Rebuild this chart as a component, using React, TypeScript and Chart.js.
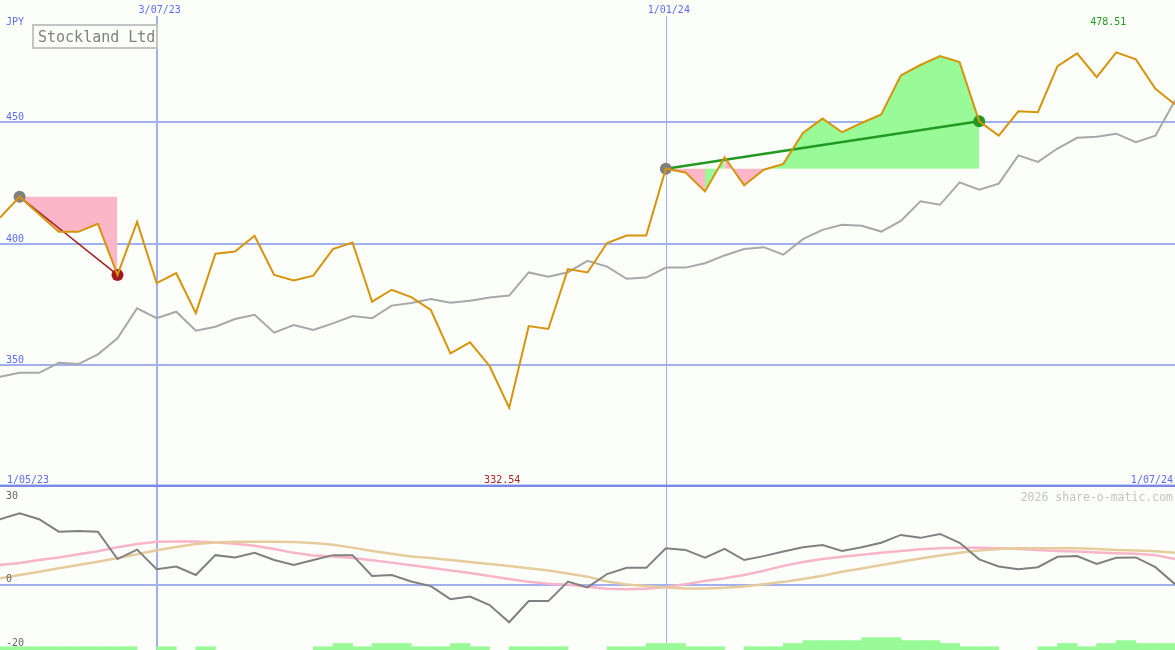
import { useEffect, useRef } from "react"
import { Chart, registerables } from "chart.js"

Chart.register(...registerables)

// weekly closes (JPY), index = week, 8 May 2023 .. 1 Jul 2024
const price = [
  410.6, 419.2, 412.0, 404.8, 404.8, 408.1, 387.1, 408.9, 383.7, 387.8,
  371.4, 395.8, 396.7, 403.2, 387.1, 384.8, 386.8, 397.7, 400.4, 376.1,
  381.0, 378.0, 372.7, 354.9, 359.4, 349.7, 332.54, 366.1, 364.9, 389.5,
  388.1, 400.2, 403.3, 403.3, 430.7, 429.2, 421.4, 435.4, 423.9, 430.3,
  432.7, 445.4, 451.3, 445.7, 449.5, 453.0, 469.0, 473.3, 477.0, 474.5,
  450.2, 444.3, 454.3, 453.9, 472.8, 478.1, 468.3, 478.51, 475.6, 463.5, 457.1,
]

// relative market line (grey)
const benchmark = [
  345.3, 346.9, 346.9, 351.0, 350.5, 354.5, 361.1, 373.4, 369.3, 372.0,
  364.2, 365.8, 369.0, 370.7, 363.4, 366.5, 364.5, 367.2, 370.2, 369.3,
  374.5, 375.6, 377.2, 375.7, 376.5, 377.8, 378.6, 388.1, 386.4, 388.2,
  392.9, 390.5, 385.5, 386.0, 390.1, 390.1, 391.9, 395.1, 397.7, 398.5,
  395.4, 401.8, 405.6, 407.7, 407.3, 404.9, 409.3, 417.3, 415.9, 425.1,
  422.1, 424.6, 436.2, 433.5, 439.0, 443.4, 443.8, 445.1, 441.6, 444.3, 458.7,
]

// lower panel
const momentum = [
  20.1, 21.9, 20.1, 16.3, 16.5, 16.3, 7.9, 10.8, 4.8, 5.6,
  3.0, 9.1, 8.4, 9.8, 7.6, 6.1, 7.6, 9.1, 9.1, 2.7,
  3.0, 1.0, -0.4, -4.4, -3.6, -6.2, -11.5, -5.0, -5.0, 1.0,
  -0.8, 3.3, 5.2, 5.2, 11.2, 10.7, 8.3, 11.0, 7.6, 8.8,
  10.2, 11.5, 12.2, 10.4, 11.5, 12.9, 15.3, 14.4, 15.6, 12.9,
  7.8, 5.6, 4.8, 5.4, 8.6, 8.8, 6.4, 8.3, 8.4, 5.4, 0.2,
]

const avgPink = [
  6.1, 6.7, 7.6, 8.4, 9.4, 10.3, 11.5, 12.5, 13.2, 13.3,
  13.3, 13.0, 12.6, 12.0, 11.0, 9.8, 9.0, 8.7, 8.2, 7.5,
  6.8, 6.0, 5.2, 4.4, 3.6, 2.7, 1.8, 0.9, 0.3, 0.0,
  -0.6, -1.2, -1.4, -1.2, -0.7, 0.2, 1.2, 2.0, 3.0, 4.3,
  5.8, 7.0, 7.9, 8.6, 9.2, 9.8, 10.4, 10.9, 11.2, 11.4,
  11.4, 11.2, 11.0, 10.7, 10.4, 10.2, 9.9, 9.7, 9.5, 9.1, 7.9,
]

const avgTan = [
  2.0, 3.0, 4.0, 5.1, 6.1, 7.1, 8.2, 9.4, 10.6, 11.6,
  12.5, 13.0, 13.2, 13.2, 13.2, 13.1, 12.8, 12.3, 11.4, 10.4,
  9.5, 8.7, 8.2, 7.6, 7.0, 6.4, 5.8, 5.1, 4.4, 3.5,
  2.5, 1.0, 0.1, -0.4, -0.8, -1.1, -1.1, -0.9, -0.5, 0.2,
  0.9, 1.8, 2.8, 4.0, 5.0, 6.1, 7.1, 8.1, 9.0, 9.8,
  10.5, 11.0, 11.2, 11.2, 11.2, 11.2, 11.0, 10.7, 10.5, 10.3, 9.8,
]

// volume blocks (height above panel floor)
const volume = [
  1, 1, 1, 1, 1, 1, 1, 0, 1, 0,
  1, 0, 0, 0, 0, 0, 1, 2, 1, 2,
  2, 1, 1, 2, 1, 0, 1, 1, 1, 0,
  0, 1, 1, 2, 2, 1, 1, 0, 1, 1,
  2, 2.9, 2.9, 2.9, 3.8, 3.8, 2.9, 2.9, 2, 1,
  1, 0, 0, 1, 2, 1, 2, 2.9, 2, 2,
]

const priceTicks = [350, 400, 450]
const lowerTicks = [30, 0, -20]
const dateLineWeeks = [8, 34]
const dateLineLabels = ["3/07/23", "1/01/24"]
const startLabel = "1/05/23"
const endLabel = "1/07/24"
const trendDown = [1, 6]
const trendUp = [34, 50]

const BG = "#fcfefa"
const GRID = "#a2b0f0"
const BLUE_TEXT = "#5b6cf0"
const ORANGE = "#d6940c"
const FILL_GREEN = "#98fb98"
const FILL_PINK = "#fbb6c8"
const MONO = "'DejaVu Sans Mono', monospace"

const toXY = (arr: number[]) => arr.map((v, i) => ({ x: i, y: v }))
const slice = (from: number, to: number) =>
  price.map((v, i) => ({ x: i, y: i >= from && i <= to ? v : null }))

const maxIdx = price.indexOf(Math.max(...price))
const minIdx = price.indexOf(Math.min(...price))

const mainDecor = {
  id: "mainDecor",
  beforeDatasetsDraw(chart: any) {
    const { ctx, scales } = chart
    ctx.save()
    ctx.strokeStyle = GRID
    dateLineWeeks.forEach((w, k) => {
      const px = Math.round(scales.x.getPixelForValue(w))
      ctx.lineWidth = k === 0 ? 2 : 1
      ctx.beginPath()
      ctx.moveTo(k === 0 ? px : px + 0.5, 16)
      ctx.lineTo(k === 0 ? px : px + 0.5, chart.height)
      ctx.stroke()
    })
    ctx.restore()
  },
  afterDraw(chart: any) {
    const { ctx, scales } = chart
    const x = scales.x
    const y = scales.y
    ctx.save()
    ctx.font = `10px ${MONO}`
    ctx.fillStyle = BLUE_TEXT
    ctx.textAlign = "left"
    ctx.fillText("JPY", 6, 25)
    priceTicks.forEach((v) => ctx.fillText(String(v), 6, y.getPixelForValue(v) - 2))
    ctx.textAlign = "center"
    dateLineWeeks.forEach((w, k) => ctx.fillText(dateLineLabels[k], x.getPixelForValue(w) + 3, 13))
    ctx.textAlign = "left"
    ctx.fillText(startLabel, 7, 483)
    ctx.textAlign = "right"
    ctx.fillText(endLabel, 1173, 483)

    ctx.textAlign = "center"
    ctx.fillStyle = "#229922"
    ctx.fillText(price[maxIdx].toFixed(2), x.getPixelForValue(maxIdx) - 8, 25)
    ctx.fillStyle = "#aa2222"
    ctx.fillText(price[minIdx].toFixed(2), x.getPixelForValue(minIdx) - 7, 483)

    // title box
    ctx.strokeStyle = "#c4c4c4"
    ctx.lineWidth = 2
    ctx.strokeRect(33, 25, 124, 23)
    ctx.font = `15px ${MONO}`
    ctx.fillStyle = "#808080"
    ctx.textAlign = "left"
    ctx.fillText("Stockland Ltd", 38, 42)

    // panel divider
    ctx.fillStyle = "#7a88e8"
    ctx.fillRect(0, chart.height - 2.4, chart.width, 2.4)
    ctx.restore()
  },
}

const lowerDecor = {
  id: "lowerDecor",
  beforeDatasetsDraw(chart: any) {
    const { ctx, scales } = chart
    ctx.save()
    ctx.strokeStyle = GRID
    dateLineWeeks.forEach((w, k) => {
      const px = Math.round(scales.x.getPixelForValue(w))
      ctx.lineWidth = k === 0 ? 2 : 1
      ctx.beginPath()
      ctx.moveTo(k === 0 ? px : px + 0.5, 0)
      ctx.lineTo(k === 0 ? px : px + 0.5, chart.height)
      ctx.stroke()
    })
    ctx.restore()
  },
  afterDraw(chart: any) {
    const { ctx, scales } = chart
    const y = scales.y
    ctx.save()
    ctx.font = `10px ${MONO}`
    ctx.fillStyle = "#666666"
    ctx.textAlign = "left"
    lowerTicks.forEach((v) => {
      const py = y.getPixelForValue(v)
      const base = v === 30 ? py + 12 : v === -20 ? py - 4 : py - 3
      ctx.fillText(String(v), 6, base)
    })
    ctx.font = `11.5px ${MONO}`
    ctx.fillStyle = "#c4c4c4"
    ctx.textAlign = "right"
    ctx.fillText("2026 share-o-matic.com", 1173, 14)
    ctx.restore()
  },
}

function fillSet(from: number, to: number) {
  const base = price[from]
  return {
    type: "line",
    data: slice(from, to),
    borderWidth: 0,
    pointRadius: 0,
    backgroundColor: FILL_PINK,
    fill: { value: base, above: FILL_GREEN, below: FILL_PINK },
    segment: {
      backgroundColor: (c: any) => (c.p1.parsed.y >= base ? FILL_GREEN : FILL_PINK),
    },
    order: 10,
  }
}

function trendSet(idx: number[], color: string, width: number) {
  return {
    type: "line",
    data: idx.map((i) => ({ x: i, y: price[i] })),
    borderColor: color,
    borderWidth: width,
    pointRadius: 6,
    pointBorderWidth: 0,
    pointBackgroundColor: ["#808080", color],
    fill: false,
    order: 2,
  }
}

function MainChart() {
  const chartRef = useRef<HTMLCanvasElement>(null)
  const chartInstance = useRef<Chart | null>(null)

  useEffect(() => {
    if (!chartRef.current) return
    if (chartInstance.current) chartInstance.current.destroy()
    const ctx = chartRef.current.getContext("2d")
    if (!ctx) return

    chartInstance.current = new Chart(ctx, {
      type: "line",
      data: {
        datasets: [
          fillSet(trendDown[0], trendDown[1]),
          fillSet(trendUp[0], trendUp[1]),
          {
            data: toXY(benchmark),
            borderColor: "#a8a8a8",
            borderWidth: 2,
            pointRadius: 0,
            fill: false,
            order: 5,
          },
          trendSet(trendDown, "#a01c1c", 1.5),
          trendSet(trendUp, "#229922", 2.5),
          {
            data: toXY(price),
            borderColor: ORANGE,
            borderWidth: 2,
            pointRadius: 0,
            fill: false,
            order: 1,
          },
        ] as any,
      },
      options: {
        animation: false,
        responsive: false,
        events: [],
        layout: { padding: 0, autoPadding: false },
        plugins: { legend: { display: false }, tooltip: { enabled: false } },
        scales: {
          x: { type: "linear", min: 0, max: 60, display: false, offset: false },
          y: {
            type: "linear",
            min: 300,
            max: 500,
            afterBuildTicks: (axis: any) => {
              axis.ticks = priceTicks.map((v) => ({ value: v }))
            },
            ticks: { display: false },
            grid: { color: GRID, lineWidth: 2, drawTicks: false },
            border: { display: false },
          },
        },
      },
      plugins: [mainDecor],
    })

    return () => {
      if (chartInstance.current) chartInstance.current.destroy()
    }
  }, [])

  return <canvas ref={chartRef} width={1175} height={487} style={{ display: "block" }}></canvas>
}

function LowerChart() {
  const chartRef = useRef<HTMLCanvasElement>(null)
  const chartInstance = useRef<Chart | null>(null)

  useEffect(() => {
    if (!chartRef.current) return
    if (chartInstance.current) chartInstance.current.destroy()
    const ctx = chartRef.current.getContext("2d")
    if (!ctx) return

    chartInstance.current = new Chart(ctx, {
      type: "line",
      data: {
        datasets: [
          {
            type: "bar",
            data: volume.map((v, i) => ({ x: i + 0.5, y: v > 0 ? [-20, -20 + v] : null })),
            backgroundColor: FILL_GREEN,
            borderWidth: 0,
            barPercentage: 1,
            categoryPercentage: 1,
            order: 4,
          },
          {
            data: toXY(avgPink),
            borderColor: "#f8b4c8",
            borderWidth: 2.5,
            pointRadius: 0,
            fill: false,
            order: 3,
          },
          {
            data: toXY(avgTan),
            borderColor: "#e6cc9c",
            borderWidth: 2.5,
            pointRadius: 0,
            fill: false,
            order: 2,
          },
          {
            data: toXY(momentum),
            borderColor: "#808080",
            borderWidth: 2,
            pointRadius: 0,
            fill: false,
            order: 1,
          },
        ] as any,
      },
      options: {
        animation: false,
        responsive: false,
        events: [],
        layout: { padding: 0, autoPadding: false },
        plugins: { legend: { display: false }, tooltip: { enabled: false } },
        scales: {
          x: {
            type: "linear",
            min: 0,
            max: 60,
            display: false,
            offset: false,
            grid: { offset: false },
          },
          y: {
            type: "linear",
            min: -20,
            max: 30,
            afterBuildTicks: (axis: any) => {
              axis.ticks = [{ value: 0 }]
            },
            ticks: { display: false },
            grid: { color: GRID, lineWidth: 2, drawTicks: false },
            border: { display: false },
          },
        },
      },
      plugins: [lowerDecor],
    })

    return () => {
      if (chartInstance.current) chartInstance.current.destroy()
    }
  }, [])

  return <canvas ref={chartRef} width={1175} height={163} style={{ display: "block" }}></canvas>
}

export default function App() {
  useEffect(() => {
    document.body.style.margin = "0"
    document.body.style.background = BG
  }, [])

  return (
    <div style={{ position: "absolute", left: 0, top: 0, width: 1175, height: 650, background: BG }}>
      <MainChart />
      <LowerChart />
    </div>
  )
}
